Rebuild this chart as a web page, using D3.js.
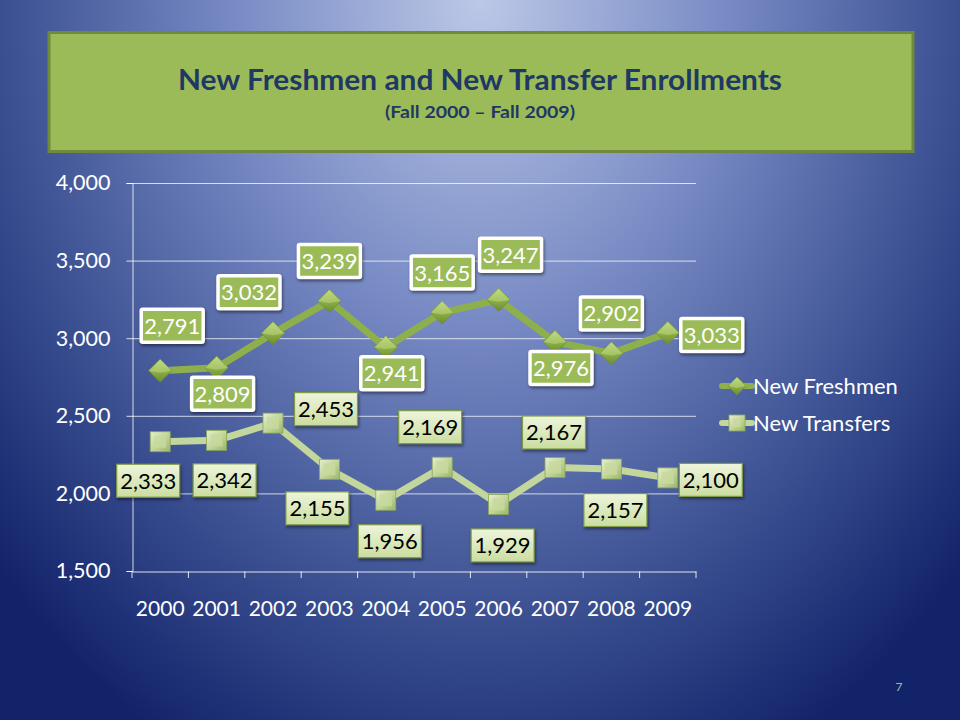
<!DOCTYPE html>
<html><head><meta charset="utf-8">
<script src="https://cdn.jsdelivr.net/npm/d3@7"></script>
<style>html,body{margin:0;padding:0;background:#1b2d6b;}svg{display:block;}</style>
</head><body>
<script>
const years = ["2000","2001","2002","2003","2004","2005","2006","2007","2008","2009"];
const freshmen = [2791, 2809, 3032, 3239, 2941, 3165, 3247, 2976, 2902, 3033];
const transfers = [2333, 2342, 2453, 2155, 1956, 2169, 1929, 2167, 2157, 2100];
const freshmenLabelPos = ["tr","b","tl","t","b","t","tr","b","t","r"];
const transferLabelPos = ["bl","br","tr","bl","b","tl","b","t","b","r"];
const yTicks = [1500, 2000, 2500, 3000, 3500, 4000];
const seriesNames = ["New Freshmen", "New Transfers"];
const titleText = "New Freshmen and New Transfer Enrollments";
const subtitleText = "(Fall 2000 \u2013 Fall 2009)";

const W = 960, H = 720;
const FONT = "Lato, 'Open Sans', sans-serif";
const svg = d3.select("body").append("svg").attr("width", W).attr("height", H);
const defs = svg.append("defs");

// background
const bg = defs.append("radialGradient").attr("id","bg").attr("gradientUnits","userSpaceOnUse")
  .attr("cx",0).attr("cy",0).attr("r",650).attr("gradientTransform","translate(480,0) scale(1,1.3)");
[[0,"#bcc8e7"],[0.4,"#7487c2"],[0.78,"#33488a"],[1,"#13236a"]].forEach(s=>bg.append("stop").attr("offset",s[0]).attr("stop-color",s[1]));
svg.append("rect").attr("width",W).attr("height",H).attr("fill","url(#bg)");

// gradients for markers
const dg = defs.append("linearGradient").attr("id","dg").attr("x1",0).attr("y1",0).attr("x2",0).attr("y2",1);
dg.append("stop").attr("offset",0).attr("stop-color","#b9d47a");
dg.append("stop").attr("offset",0.5).attr("stop-color","#8fb04a");
dg.append("stop").attr("offset",1).attr("stop-color","#6c8c2e");
const sg = defs.append("linearGradient").attr("id","sg").attr("x1",0).attr("y1",0).attr("x2",1).attr("y2",1);
sg.append("stop").attr("offset",0).attr("stop-color","#e6efcf");
sg.append("stop").attr("offset",0.5).attr("stop-color","#c3d69b");
sg.append("stop").attr("offset",1).attr("stop-color","#9cb66a");
const lg = defs.append("linearGradient").attr("id","lg").attr("x1",0).attr("y1",0).attr("x2",0).attr("y2",1);
lg.append("stop").attr("offset",0).attr("stop-color","#eef5dc");
lg.append("stop").attr("offset",1).attr("stop-color","#cadd9f");

// title box
svg.append("rect").attr("x",49).attr("y",32.5).attr("width",864).attr("height",119)
  .attr("fill","#9bbb59").attr("stroke","#71893a").attr("stroke-width",3);
svg.append("text").attr("x",480).attr("y",90).attr("text-anchor","middle")
  .attr("font-family",FONT).attr("font-weight","bold").attr("font-size",28).attr("fill","#1f3864")
  .attr("textLength",604).attr("lengthAdjust","spacingAndGlyphs")
  .text(titleText);
svg.append("text").attr("x",480).attr("y",118).attr("text-anchor","middle")
  .attr("font-family",FONT).attr("font-weight","bold").attr("font-size",17).attr("fill","#1f3864")
  .attr("textLength",190).attr("lengthAdjust","spacingAndGlyphs")
  .text(subtitleText);

// scales
const x = d3.scaleBand().domain(years).range([132, 696]).padding(0);
const y = d3.scaleLinear().domain([1500, 4000]).range([571, 183]);
const cx = d => x(d) + x.bandwidth()/2;

// gridlines
svg.append("g").selectAll("line").data(yTicks.filter(t=>t>1500)).join("line")
  .attr("x1",132).attr("x2",696).attr("y1",d=>y(d)+0.5).attr("y2",d=>y(d)+0.5)
  .attr("stroke","#ffffff").attr("stroke-opacity",0.75).attr("stroke-width",1);

// y axis
const yAxis = svg.append("g").attr("transform","translate(132.5,0)")
  .call(d3.axisLeft(y).tickValues(yTicks).tickSize(6).tickPadding(16).tickFormat(d3.format(",")));
yAxis.select(".domain").attr("stroke","#ffffff").attr("stroke-opacity",0.8);
yAxis.selectAll(".tick line").attr("stroke","#ffffff").attr("stroke-opacity",0.8);
yAxis.selectAll("text").attr("font-family",FONT).attr("font-size",21.5).attr("fill","#ffffff");

// x axis
const xAxis = svg.append("g").attr("transform","translate(0,571.5)")
  .call(d3.axisBottom(x).tickSize(0).tickPadding(30));
xAxis.select(".domain").attr("stroke","#ffffff").attr("stroke-opacity",0.85);
xAxis.selectAll("text").attr("font-family",FONT).attr("font-size",21).attr("fill","#ffffff");
svg.append("g").selectAll("line").data(years.concat(["end"])).join("line")
  .attr("x1",(d,i)=> i<years.length ? x(d) : 696).attr("x2",(d,i)=> i<years.length ? x(d) : 696)
  .attr("y1",571.5).attr("y2",578).attr("stroke","#ffffff").attr("stroke-opacity",0.85);

// lines
const line = d3.line().x((d,i)=>cx(years[i])).y(d=>y(d));
svg.append("path").datum(transfers).attr("d",line).attr("fill","none")
  .attr("stroke","#c3d69b").attr("stroke-width",7).attr("stroke-linejoin","round");
svg.append("path").datum(freshmen).attr("d",line).attr("fill","none")
  .attr("stroke","#8db04c").attr("stroke-width",7).attr("stroke-linejoin","round");

// markers
function diamond(g, px, py, s){
  g.append("path").attr("d",`M${px},${py-s}L${px+s},${py}L${px},${py+s}L${px-s},${py}Z`)
   .attr("fill","url(#dg)").attr("stroke","#6f8f30").attr("stroke-width",0.8);
  g.append("path").attr("d",`M${px},${py-s}L${px+s},${py}L${px},${py+2}L${px-s},${py}Z`)
   .attr("fill","#c8e08c").attr("opacity",0.45);
}
function square(g, px, py, s){
  g.append("rect").attr("x",px-s).attr("y",py-s).attr("width",2*s).attr("height",2*s)
   .attr("fill","url(#sg)").attr("stroke","#8aa558").attr("stroke-width",0.8);
  g.append("rect").attr("x",px-s+4).attr("y",py-s+4).attr("width",2*s-8).attr("height",2*s-8)
   .attr("fill","#c8da9e").attr("opacity",0.8);
}
const mg = svg.append("g");
transfers.forEach((v,i)=>square(mg, cx(years[i]), y(v), 10));
freshmen.forEach((v,i)=>diamond(mg, cx(years[i]), y(v), 11.5));

// data labels
const fmt = d3.format(",");
const offs = {
  fr: {t:[0,-40], tl:[-24,-41], tr:[12,-45], b:[6,26], r:[44,2]},
  tr: {t:[-1,-35], tl:[-12,-40], b:[4,41], bl:[-12,39], br:[8,40], r:[43,2], tr:[53,-14]}
};
function label(g, px, py, txt, fresh){
  if(fresh){
    const w = 62, h = 33;
    g.append("rect").attr("x",px-w/2).attr("y",py-h/2).attr("width",w).attr("height",h)
      .attr("fill","#9bbb59").attr("stroke","#ffffff").attr("stroke-width",3.5).attr("rx",1.5)
      .style("filter","drop-shadow(1px 2px 1.5px rgba(0,0,0,0.45))");
    g.append("text").attr("x",px).attr("y",py+8).attr("text-anchor","middle")
      .attr("font-family",FONT).attr("font-size",22).attr("fill","#ffffff").text(txt);
  } else {
    const w = 63, h = 33;
    g.append("rect").attr("x",px-w/2).attr("y",py-h/2).attr("width",w).attr("height",h)
      .attr("fill","url(#lg)").attr("stroke","#7f9b45").attr("stroke-width",1.2)
      .style("filter","drop-shadow(1px 2px 1.5px rgba(0,0,0,0.45))");
    g.append("text").attr("x",px).attr("y",py+8).attr("text-anchor","middle")
      .attr("font-family",FONT).attr("font-size",22).attr("fill","#000000").text(txt);
  }
}
const lgG = svg.append("g");
freshmen.forEach((v,i)=>{const o=offs.fr[freshmenLabelPos[i]]; label(lgG, cx(years[i])+o[0], y(v)+o[1], fmt(v), true);});
transfers.forEach((v,i)=>{const o=offs.tr[transferLabelPos[i]]; label(lgG, cx(years[i])+o[0], y(v)+o[1], fmt(v), false);});

// legend
const leg = svg.append("g");
seriesNames.forEach((n,i)=>{
  const ly = 386 + i*37;
  leg.append("line").attr("x1",722).attr("x2",752).attr("y1",ly).attr("y2",ly)
    .attr("stroke", i===0 ? "#8db04c" : "#c3d69b").attr("stroke-width",6).attr("stroke-linecap","round");
  if(i===0) diamond(leg, 737, ly, 9); else square(leg, 737, ly, 8);
  leg.append("text").attr("x",753).attr("y",ly+7.5).attr("font-family",FONT).attr("font-size",22)
    .attr("fill","#ffffff").text(n);
});

// page number
svg.append("text").attr("x",899).attr("y",691).attr("text-anchor","middle")
  .attr("font-family",FONT).attr("font-size",12).attr("fill","#8fc0a0").text("7");
</script>
</body></html>
